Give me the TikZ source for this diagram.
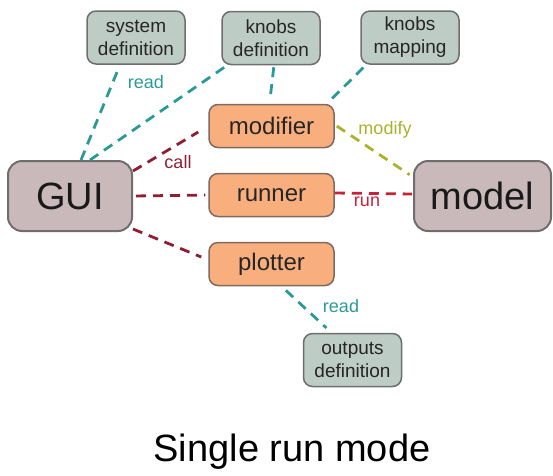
\documentclass[tikz,border=0pt]{standalone}
\usepackage{fontspec}
\setmainfont{Liberation Sans}
\usetikzlibrary{calc}
\definecolor{graybox}{HTML}{C9B9BB}
\definecolor{greenbox}{HTML}{BDCCC4}
\definecolor{orangebox}{HTML}{F9AE7E}
\definecolor{boxline}{HTML}{6E6E6E}
\definecolor{orangeline}{HTML}{7E6A5E}
\definecolor{tealc}{HTML}{2B9A97}
\definecolor{darkredc}{HTML}{8E1F33}
\definecolor{redc}{HTML}{C4243A}
\definecolor{olivec}{HTML}{A9B22A}
\begin{document}
\begin{tikzpicture}[x=1pt,y=-1pt,
  topbox/.style={draw=boxline, fill=greenbox, line width=1.5pt, rounded corners=9pt,
    minimum width=98pt, minimum height=53pt, inner sep=0pt, align=center,
    font=\fontsize{19}{23}\selectfont, text=black!85},
  midbox/.style={draw=orangeline, fill=orangebox, line width=1.5pt, rounded corners=9pt,
    minimum width=125pt, minimum height=43pt, inner sep=0pt,
    font=\fontsize{24}{28}\selectfont, text=black!85},
  bigbox/.style={draw=boxline, fill=graybox, line width=2pt, rounded corners=14pt,
    minimum height=70pt, inner sep=0pt,
    font=\fontsize{38}{44}\selectfont, text=black!90},
  conn/.style={line width=2.8pt, dash pattern=on 10pt off 7pt},
  tealline/.style={conn, draw=tealc},
  darkline/.style={conn, draw=darkredc},
  redline/.style={conn, draw=redc},
  oliveline/.style={conn, draw=olivec},
  lbl/.style={font=\fontsize{18}{20}\selectfont, inner sep=0pt}
]
\useasboundingbox (0,0) rectangle (553,475);

% nodes
\node[topbox] (sysdef) at (136,37.5) {system\\definition};
\node[topbox] (knobdef) at (271,38) {knobs\\definition};
\node[topbox] (knobmap) at (410,37.5) {knobs\\mapping};
\node[midbox] (modifier) at (271.5,126) {modifier};
\node[midbox] (runner) at (271.5,195) {runner};
\node[midbox] (plotter) at (271.5,264) {plotter};
\node[bigbox, minimum width=124pt] (gui) at (70,196) {GUI};
\node[bigbox, minimum width=137pt] (model) at (482.5,196) {model};
\node[topbox] (outdef) at (352.5,360) {outputs\\definition};

% connectors
\draw[tealline, shorten >=6pt] ([xshift=11pt]gui.north) -- ([xshift=-16pt]sysdef.south);
\draw[tealline, shorten >=3pt] ([xshift=20pt]gui.north) -- ([xshift=6pt]knobdef.south west);
\draw[tealline, shorten >=4pt, shorten <=2pt] ([xshift=3pt]knobdef.south) -- ([xshift=-2pt]modifier.north);
\draw[tealline, shorten >=3pt, shorten <=4pt] ([xshift=6pt]knobmap.south west) -- ([xshift=-8pt]modifier.north east);
\draw[darkline] ([yshift=-11pt]gui.north east) -- ($(modifier.west)+(-10,6)$);
\draw[darkline, shorten >=3pt, shorten <=3pt] (gui.east) -- (runner.west);
\draw[redline, shorten >=1pt] ([yshift=2pt]runner.east) -- ([yshift=2pt]model.west);
\draw[darkline] ([yshift=3pt]gui.south east) -- ($(plotter.west)+(-7,-7)$);
\draw[oliveline, shorten >=4pt] ($(modifier.east)+(2,0)$) -- ([yshift=-17pt]model.north west);
\draw[tealline, shorten >=7pt, shorten <=6pt] ([xshift=10pt]plotter.south) -- ([xshift=-21pt]outdef.north);

% labels
\node[lbl, text=tealc] (lread1) at (146,82) {read};
\node[lbl, text=darkredc] (lcall) at (178,162) {call};
\node[lbl, text=redc] (lrun) at (367,202) {run};
\node[lbl, text=olivec] (lmodify) at (385,130) {modify};
\node[lbl, text=tealc] (lread2) at (341,306) {read};

% title
\node[anchor=base, inner sep=0pt, font=\fontsize{38}{44}\selectfont] (title) at (292,461) {Single run mode};
\end{tikzpicture}
\end{document}
